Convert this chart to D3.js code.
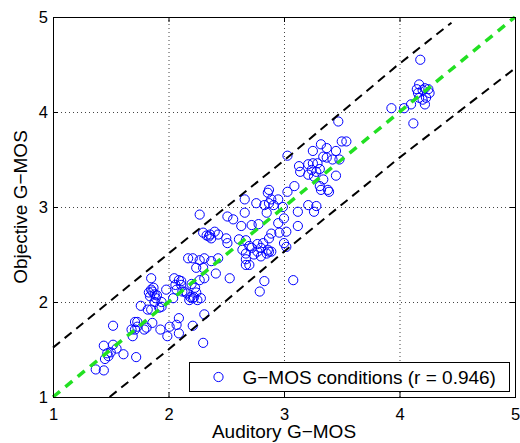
<!DOCTYPE html>
<html lang="en">
	<head>
		<meta charset="utf-8">
		<title>G-MOS scatter</title>
		<script type="text/javascript" src="https://cdn.jsdelivr.net/npm/d3@7"></script>
		<style type="text/css">
			body{
				margin: 0px;
				overflow: hidden;
				background: white;
			}
			text{
				font-family: "Liberation Sans", Arial, sans-serif;
				fill: black;
			}
			.tick text{
				font-size: 16.5px;
			}
			.grid .tick line{
				stroke: #444;
				stroke-dasharray: 1,3;
			}
			.inner .tick line{
				stroke: black;
			}
			.axis-label{
				font-size: 19px;
			}
			.legend-text{
				font-size: 19px;
			}
			.point{
				fill: none;
				stroke: #0000ff;
				stroke-width: 1;
			}
		</style>
	</head>
	<body>
		<script type="text/javascript">

			//Width and height
			var width = 520;
			var height = 443;

			// auditory vs objective G-MOS, one pair per condition
			const auditory = [
				1.37,1.44,1.44,1.52,1.52,1.47,1.50,1.48,1.45,1.55,1.61,1.72,1.69,1.71,1.73,1.79,1.76,1.82,1.85,1.86,1.93,1.99,2.01,1.94,1.88,
				1.71,1.73,1.68,1.81,
				1.85,1.85,1.86,1.88,1.89,1.84,1.94,1.92,1.98,1.87,1.83,1.90,
				2.05,2.11,2.07,2.14,2.04,2.21,2.28,2.27,2.24,2.31,2.30,2.41,2.53,2.17,2.21,2.27,2.31,2.37,2.43,2.30,2.36,2.43,2.37,2.50,2.51,2.56,2.63,2.67,2.72,2.67,2.64,2.67,2.27,2.66,2.76,2.66,2.51,
				2.09,2.06,2.11,2.12,2.16,2.19,2.22,2.20,2.23,2.24,2.61,2.77,2.74,2.77,2.70,2.72,2.67,2.70,2.35,2.33,2.40,2.78,
				2.09,2.09,2.21,2.31,2.30,2.18,2.25,2.07,
				2.85,2.95,3.00,2.96,3.02,2.89,2.87,3.00,3.02,2.86,2.89,2.85,3.12,3.08,2.83,3.12,3.26,
				2.82,2.80,2.87,2.80,2.79,
				3.47,3.50,3.54,3.32,3.37,3.25,3.45,3.03,3.34,3.37,3.42,3.48,3.13,3.21,3.25,3.29,3.24,3.28,3.31,3.14,3.21,3.26,3.34,3.31,3.38,3.32,3.09,3.03,2.87,2.86,2.95,2.89,2.91,2.87,2.83,3.21,3.28,3.45,3.39,2.99,
				4.18,4.17,4.15,4.16,4.20,4.22,4.25,4.26,4.17,4.20,4.23,4.22,4.10,4.04,3.93,4.12
			];
			const objective = [
				1.29,1.28,1.54,1.55,1.75,1.46,1.47,1.43,1.40,1.51,1.45,1.42,1.64,1.71,1.74,1.71,1.96,1.92,1.92,1.78,1.71,1.64,1.74,1.95,2.00,
				1.79,1.79,1.71,1.73,
				2.25,2.13,2.11,2.08,2.04,2.06,2.00,1.94,2.13,2.15,2.10,2.07,
				2.25,2.22,2.13,2.11,2.04,2.04,2.04,2.23,2.36,2.25,2.36,2.30,2.25,2.46,2.46,2.44,2.46,2.43,2.46,2.73,2.71,2.71,2.67,2.67,2.62,2.87,2.80,2.65,2.81,2.51,2.55,2.39,2.92,3.08,3.04,2.94,2.90,
				2.23,2.18,2.18,2.11,2.09,2.05,2.05,2.19,2.15,2.10,2.66,2.61,2.50,2.53,2.59,2.57,2.45,2.39,2.69,2.70,2.74,2.82,
				1.83,1.67,1.75,1.87,1.57,2.02,2.02,1.76,
				2.94,2.83,2.88,2.73,2.74,2.72,2.67,2.62,2.58,2.55,2.53,2.51,2.80,2.23,2.22,2.95,2.95,
				2.62,2.57,2.53,2.48,2.11,
				3.90,3.69,3.69,3.66,3.62,3.59,3.59,3.54,3.53,3.52,3.50,3.50,3.43,3.45,3.46,3.46,3.39,3.37,3.40,3.37,3.34,3.32,3.29,3.22,3.18,3.18,3.22,3.16,3.18,3.15,3.08,3.08,3.02,3.04,3.02,3.02,3.01,3.33,3.16,3.00,
				4.55,4.29,4.24,4.20,4.23,4.25,4.24,4.20,4.15,4.13,4.15,4.08,4.08,4.04,4.04,3.88
			];

			// identity line and the two dashed bounds
			const diagX = [1, 5];
			const upperX = [1, 2, 3, 3.97, 4.45];
			const upperY = [1.52, 2.51, 3.49, 4.48, 4.94];
			const lowerX = [1.49, 2, 3, 4, 5];
			const lowerY = [1, 1.5, 2.53, 3.52, 4.46];

			const xTickValues = [1, 2, 3, 4, 5];
			const yTickValues = [1, 2, 3, 4, 5];

			const xAxisLabel = 'Auditory G\u2212MOS';
			const yAxisLabel = 'Objective G\u2212MOS';
			const legendLabel = 'G\u2212MOS conditions (r = 0.946)';

			const margin = { top: 17, right: 5, bottom: 46, left: 53 };
			const innerWidth = width - margin.left - margin.right;
			const innerHeight = height - margin.top - margin.bottom;

			const xScale = d3.scaleLinear()
				.domain([1, 5])
				.range([0, innerWidth]);

			const yScale = d3.scaleLinear()
				.domain([1, 5])
				.range([innerHeight, 0]);

			//Create SVG element
			var svg = d3.select("body")
				.append("svg")
				.attr("width", width)
				.attr("height", height);

			svg.append('rect')
				.attr('width', width)
				.attr('height', height)
				.attr('fill', 'white');

			const g = svg.append('g')
				.attr('transform', `translate(${margin.left},${margin.top})`);

			// dotted grid
			const xGrid = g.append('g').attr('class', 'grid')
				.attr('transform', `translate(0, ${innerHeight})`)
				.call(d3.axisBottom(xScale).tickValues(xTickValues).tickSize(-innerHeight));
			xGrid.selectAll('.domain, text').remove();

			const yGrid = g.append('g').attr('class', 'grid')
				.call(d3.axisLeft(yScale).tickValues(yTickValues).tickSize(-innerWidth));
			yGrid.selectAll('.domain, text').remove();

			// ticks pointing inwards, labels bottom and left
			const xAxisG = g.append('g').attr('class', 'inner')
				.attr('transform', `translate(0, ${innerHeight})`)
				.call(d3.axisBottom(xScale).tickValues(xTickValues).tickSize(-5).tickPadding(11).tickFormat(d3.format('d')));
			xAxisG.selectAll('.domain').remove();

			const yAxisG = g.append('g').attr('class', 'inner')
				.call(d3.axisLeft(yScale).tickValues(yTickValues).tickSize(-5).tickPadding(5).tickFormat(d3.format('d')));
			yAxisG.selectAll('.domain').remove();

			const topG = g.append('g').attr('class', 'inner')
				.call(d3.axisTop(xScale).tickValues(xTickValues).tickSize(-5));
			topG.selectAll('.domain, text').remove();

			const rightG = g.append('g').attr('class', 'inner')
				.attr('transform', `translate(${innerWidth}, 0)`)
				.call(d3.axisRight(yScale).tickValues(yTickValues).tickSize(-5));
			rightG.selectAll('.domain, text').remove();

			// points
			g.selectAll('circle.point')
				.data(auditory.map((x, i) => [x, objective[i]]))
				.enter()
				.append('circle')
				.attr('class', 'point')
				.attr('cx', d => xScale(d[0]))
				.attr('cy', d => yScale(d[1]))
				.attr('r', 4.6);

			// lines
			const lineGenerator = d3.line()
				.x(d => xScale(d[0]))
				.y(d => yScale(d[1]));

			g.append('path')
				.attr('fill', 'none')
				.attr('stroke', 'black')
				.attr('stroke-width', 2)
				.attr('stroke-dasharray', '9,6')
				.attr('d', lineGenerator(upperX.map((x, i) => [x, upperY[i]])));

			g.append('path')
				.attr('fill', 'none')
				.attr('stroke', 'black')
				.attr('stroke-width', 2)
				.attr('stroke-dasharray', '9,6')
				.attr('d', lineGenerator(lowerX.map((x, i) => [x, lowerY[i]])));

			g.append('path')
				.attr('fill', 'none')
				.attr('stroke', '#22e022')
				.attr('stroke-width', 3.5)
				.attr('stroke-dasharray', '9,7')
				.attr('d', lineGenerator(diagX.map(x => [x, x])));

			// frame
			g.append('rect')
				.attr('x', 0.5)
				.attr('y', 0.5)
				.attr('width', innerWidth)
				.attr('height', innerHeight)
				.attr('fill', 'none')
				.attr('stroke', 'black')
				.attr('stroke-width', 1);

			// legend
			const legend = g.append('g')
				.attr('transform', `translate(${Math.round(xScale(2.18)) + 0.5}, ${Math.round(yScale(1.365)) + 0.5})`);
			legend.append('rect')
				.attr('width', 320)
				.attr('height', 29)
				.attr('fill', 'white')
				.attr('stroke', 'black');
			legend.append('circle')
				.attr('class', 'point')
				.attr('cx', 29)
				.attr('cy', 14.5)
				.attr('r', 4.6);
			legend.append('text')
				.attr('class', 'legend-text')
				.attr('x', 53)
				.attr('y', 21.5)
				.text(legendLabel);

			// axis labels
			g.append('text')
				.attr('class', 'axis-label')
				.attr('x', innerWidth / 2)
				.attr('y', innerHeight + 41)
				.attr('text-anchor', 'middle')
				.text(xAxisLabel);

			g.append('text')
				.attr('class', 'axis-label')
				.attr('transform', `rotate(-90)`)
				.attr('x', -innerHeight / 2)
				.attr('y', -26)
				.attr('text-anchor', 'middle')
				.text(yAxisLabel);

		</script>
	</body>
</html>
